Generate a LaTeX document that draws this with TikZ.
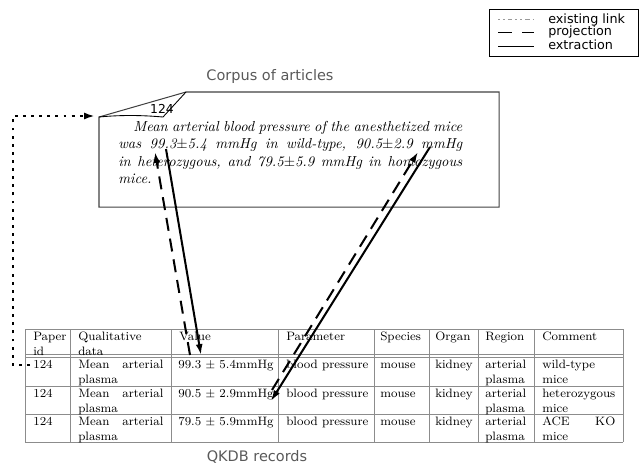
\documentclass[tikz,border=0pt]{standalone}
\usepackage{fontspec}
\newfontfamily\dejavu{DejaVu Sans}
\usetikzlibrary{arrows.meta}
\begin{document}
\begin{tikzpicture}[x=0.69pt,y=-0.69pt,
  boxline/.style={draw=black!75,line width=0.7pt},
  tabline/.style={draw=black!45,line width=0.6pt},
  cell/.style={anchor=base west,inner sep=0pt,align=justify,
    font={\fontsize{8.4}{11}\selectfont\hyphenpenalty=10000\exhyphenpenalty=10000}},
  sanslabel/.style={font=\dejavu\fontsize{10}{12}\selectfont,text=black!65},
  legendtext/.style={anchor=west,inner sep=0pt,font=\dejavu\fontsize{8.8}{9}\selectfont},
  extract/.style={line width=1.4pt,-{Latex[length=7.5pt,width=4.8pt]}},
  project/.style={extract,dash pattern=on 9pt off 5.5pt},
  existing/.style={line width=1.8pt,dash pattern=on 2pt off 3.6pt,-{Latex[length=7.5pt,width=4.8pt]}},
  legexisting/.style={draw=black!40,line width=0.5pt,dash pattern=on 1.2pt off 2.2pt on 1.2pt off 2.2pt on 3pt off 2.2pt},
  legproject/.style={line width=0.6pt,dash pattern=on 9.7pt off 6.9pt},
  legextract/.style={line width=0.6pt},
]
\useasboundingbox (0,0) rectangle (639,463);

% legend
\draw[line width=0.6pt] (489,9) rectangle (638,56);
\draw[legexisting] (498,19) -- (534,19);
\draw[legproject] (498,32) -- (534,32);
\draw[legextract] (498,46) -- (534,46);
\node[legendtext] (l1) at (548,19.5) {existing link};
\node[legendtext] (l2) at (548,32) {projection};
\node[legendtext] (l3) at (548,44.5) {extraction};

% article
\node[sanslabel] (corpus) at (270,76) {Corpus of articles};
\draw[boxline] (99,117) -- (186,92) -- (499,92) -- (499,207) -- (99,207) -- cycle;
\draw[black,line width=0.6pt] (186,92) -- (163,117) .. controls (140,115) and (120,115) .. (99,117);
\node[font=\dejavu\fontsize{8.5}{10}\selectfont,inner sep=0pt] (pid) at (162,109) {124};
\node[anchor=base west,inner sep=0pt,text width=237.4pt,align=justify,font=\itshape] (para) at (118,131.5)
 {\hspace*{10.4pt}Mean arterial blood pressure of the anesthetized mice\linebreak
  was 99.3$\pm$5.4 mmHg in wild-type, 90.5$\pm$2.9 mmHg\linebreak
  in heterozygous, and 79.5$\pm$5.9 mmHg in homozygous\linebreak mice.};

% table lines
\foreach \x in {25,70,171,278,374,429,478,534,623} \draw[tabline] (\x,329) -- (\x,442);
\foreach \y in {329,354.5,357,386,414,442} \draw[tabline] (25,\y) -- (623,\y);

% header
\node[cell,text width=24pt]   (h1) at (33,340) {Paper\linebreak id};
\node[cell,text width=58.7pt] (h2) at (78,340) {Qualitative\linebreak data};
\node[cell,text width=70pt]   (h3) at (179,340) {Value};
\node[cell,text width=62pt]   (h4) at (286,340) {Parameter};
\node[cell,text width=32pt]   (h5) at (380,340) {Species};
\node[cell,text width=30pt]   (h6) at (435,340) {Organ};
\node[cell,text width=32pt]   (h7) at (485,340) {Region};
\node[cell,text width=50.4pt] (h8) at (542,340) {Comment};

% rows
\foreach \r/\yy/\val/\com in {1/368/{99.3 $\pm$ 5.4mmHg}/{wild-type\linebreak mice},
                               2/397/{90.5 $\pm$ 2.9mmHg}/{heterozygous\linebreak mice},
                               3/425/{79.5 $\pm$ 5.9mmHg}/{ACE KO\linebreak mice}}{
  \node[cell,text width=24pt]   (r\r c1) at (33,\yy) {124};
  \node[cell,text width=58.7pt] (r\r c2) at (78,\yy) {Mean arterial\linebreak plasma};
  \node[cell,text width=70pt]   (r\r c3) at (178,\yy) {\val};
  \node[cell,text width=62pt]   (r\r c4) at (286,\yy) {blood pressure};
  \node[cell,text width=32pt]   (r\r c5) at (380,\yy) {mouse};
  \node[cell,text width=30pt]   (r\r c6) at (435,\yy) {kidney};
  \node[cell,text width=32pt]   (r\r c7) at (485,\yy) {arterial\linebreak plasma};
  \node[cell,text width=50.4pt] (r\r c8) at (542,\yy) {\com};
}
\node[sanslabel] (qkdb) at (257,457) {QKDB records};

% connector end points
\coordinate (t993) at (155,152);
\coordinate (s993) at (166,149);
\coordinate (v1p) at (190,355);
\coordinate (v1e) at (201,355);
\coordinate (v2p) at (272,390);
\coordinate (v2e) at (271,401);
\coordinate (t905) at (418,152);
\coordinate (s905) at (430,147);
\coordinate (dstart) at (30,365);
\coordinate (corner) at (95,116);

% connectors
\draw[project] (v1p) -- (t993);
\draw[extract] (s993) -- (v1e);
\draw[project] (v2p) -- (t905);
\draw[extract] (s905) -- (v2e);
\draw[existing] (dstart) -- (13,365) -- (13,116) -- (corner);
\end{tikzpicture}
\end{document}
